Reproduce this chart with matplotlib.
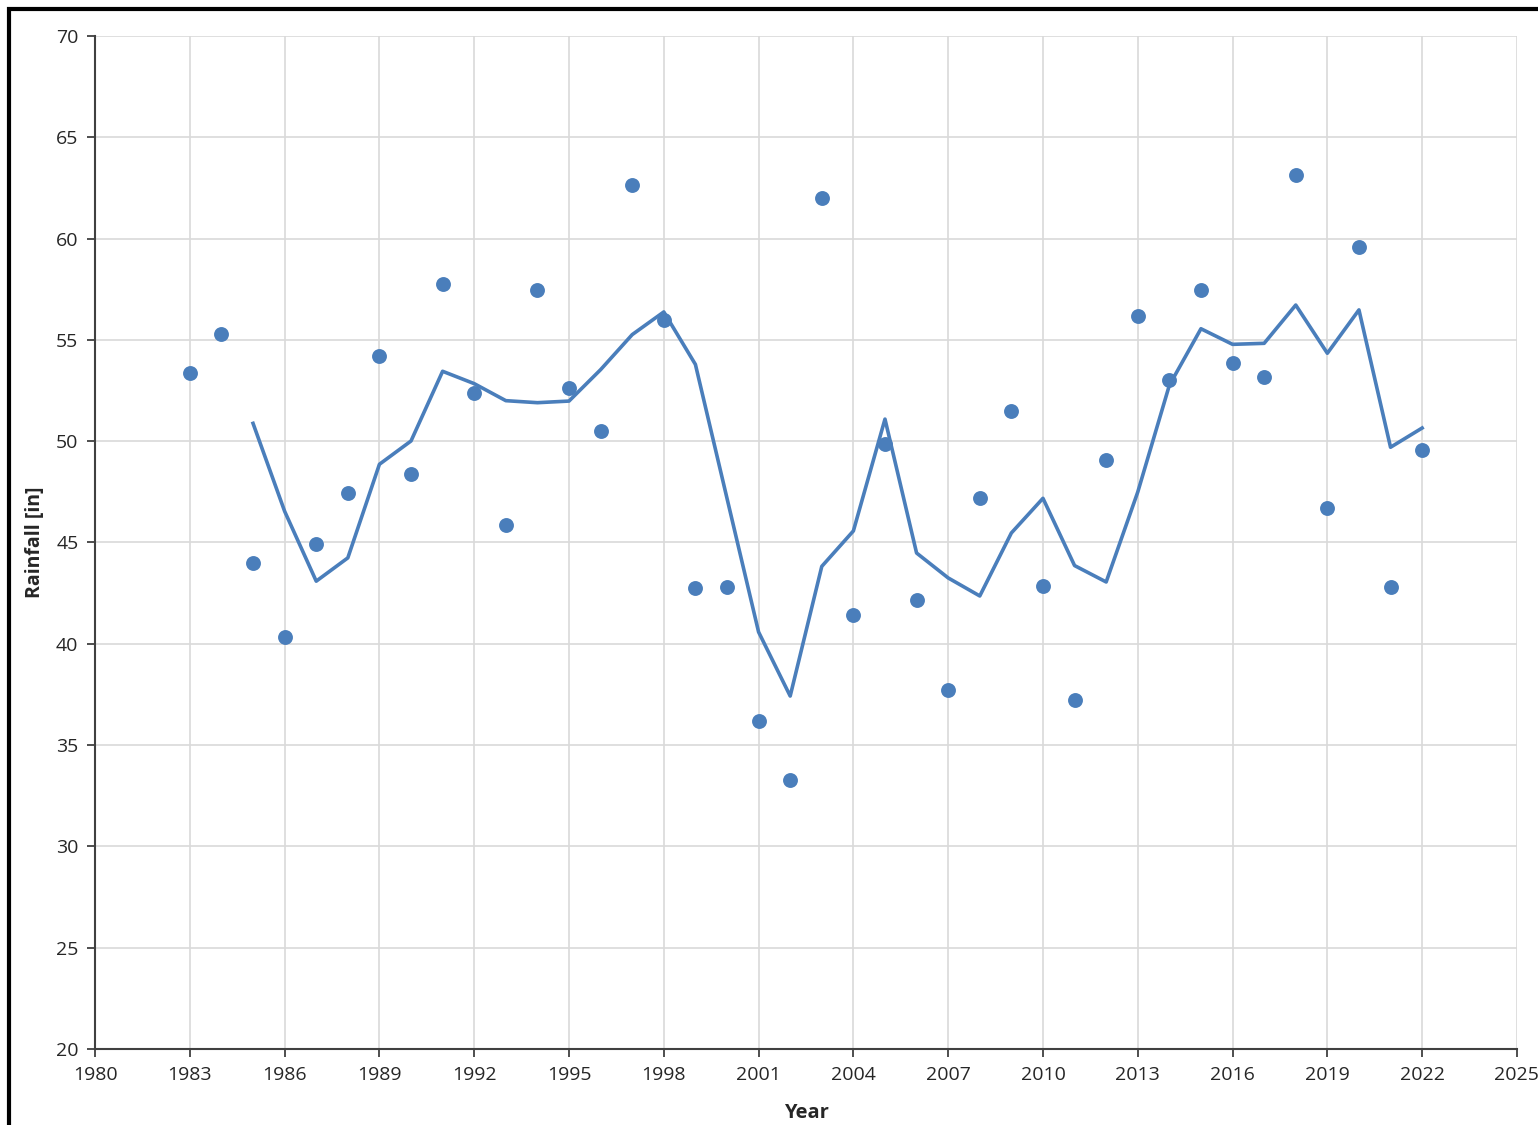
import matplotlib.pyplot as plt
from matplotlib.patches import Rectangle

plt.rcParams['font.family'] = ['Open Sans', 'DejaVu Sans']

years = list(range(1983, 2023))
rainfall = [53.37, 55.29, 43.99, 40.34, 44.93, 47.44, 54.21, 48.38, 57.76, 52.38,
            45.86, 57.46, 52.63, 50.50, 62.65, 55.98, 42.75, 42.80, 36.19, 33.28,
            62.00, 41.42, 49.86, 42.16, 37.72, 47.20, 51.49, 42.85, 37.23, 49.07,
            56.18, 53.02, 57.46, 53.86, 53.17, 63.14, 46.70, 59.59, 42.80, 49.57]

# trailing 3-year average line
avg_years = list(range(1985, 2023))
avg_rain = [50.88, 46.54, 43.09, 44.24, 48.86, 50.01, 53.45, 52.84, 52.00, 51.90,
            51.98, 53.53, 55.26, 56.38, 53.79, 47.18, 40.58, 37.42, 43.82, 45.57,
            51.09, 44.48, 43.25, 42.36, 45.47, 47.18, 43.86, 43.05, 47.49, 52.76,
            55.55, 54.78, 54.83, 56.72, 54.34, 56.48, 49.70, 50.65]

xticks = list(range(1980, 2026, 3))
yticks = list(range(20, 71, 5))

blue = '#4a7ebb'

fig = plt.figure(figsize=(15.38, 11.25), dpi=100)
ax = fig.add_axes([0.0618, 0.0676, 0.9245, 0.9004])

ax.plot(avg_years, avg_rain, color=blue, lw=2.6, zorder=3)
ax.scatter(years, rainfall, s=115, color=blue, zorder=4, linewidths=0)

ax.set_xlim(1980, 2025)
ax.set_ylim(20, 70)
ax.set_xticks(xticks)
ax.set_yticks(yticks)
ax.grid(True, color='#d9d9d9', lw=1.2)
ax.set_axisbelow(True)

for s in ['top', 'right']:
    ax.spines[s].set_visible(False)
for s in ['left', 'bottom']:
    ax.spines[s].set_color('#404040')
    ax.spines[s].set_linewidth(1.5)
ax.tick_params(axis='both', length=6, width=1.3, color='#404040',
               labelsize=14, labelcolor='#262626', pad=6)

ax.set_xlabel('Year', fontsize=14.5, fontweight='bold', color='#262626', labelpad=14)
ax.set_ylabel('Rainfall [in]', fontsize=14, fontweight='bold', color='#262626', labelpad=8)

# outer frame on the figure
fig.patches.append(Rectangle((9 / 1538, -0.05), 1.2, 1.05 - 9 / 1125,
                             transform=fig.transFigure, fill=False,
                             edgecolor='black', lw=3))

fig.savefig('out.png', dpi=100)
